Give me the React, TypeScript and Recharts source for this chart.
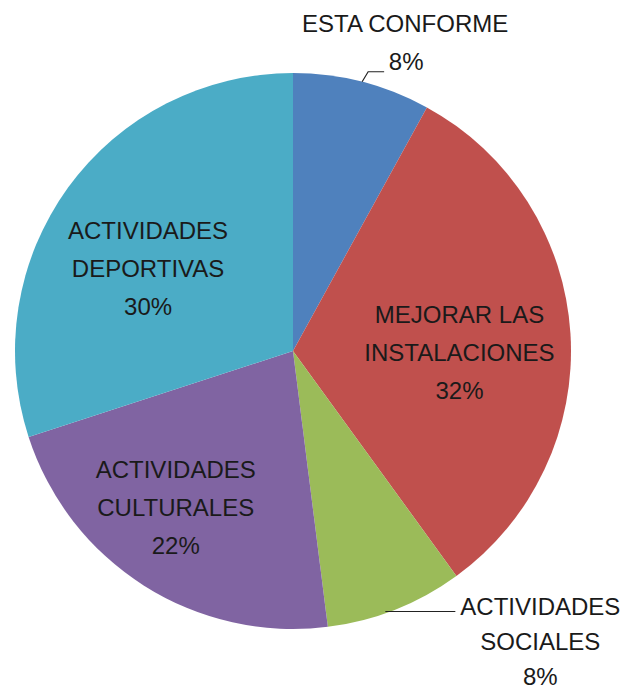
import React from 'react';
import { PieChart, Pie, Cell } from 'recharts';

const categories = ['ESTA CONFORME', 'MEJORAR LAS INSTALACIONES', 'ACTIVIDADES SOCIALES', 'ACTIVIDADES CULTURALES', 'ACTIVIDADES DEPORTIVAS'];
const values = [8, 32, 8, 22, 30];
const labelLines = [
  ['ESTA CONFORME', '8%'],
  ['MEJORAR LAS', 'INSTALACIONES', '32%'],
  ['ACTIVIDADES', 'SOCIALES', '8%'],
  ['ACTIVIDADES', 'CULTURALES', '22%'],
  ['ACTIVIDADES', 'DEPORTIVAS', '30%'],
];
const colors = ['#4F81BD', '#C0504D', '#9BBB59', '#8064A2', '#4BACC6'];

const data = categories.map((name, i) => ({ name, value: values[i] }));

const RAD = Math.PI / 180;
const FONT = "'Liberation Sans', Arial, sans-serif";
const FS = 24;
const LH = 38;
const TXT = '#1a1a1a';

const placement: Record<number, any> = {
  0: { kind: 'top' },
  1: { kind: 'in', rf: 0.6, dx: 0, dy: 12 },
  2: { kind: 'bottom' },
  3: { kind: 'in', rf: 0.7, dx: -13, dy: -8 },
  4: { kind: 'in', rf: 0.6, dx: -10, dy: 16 },
};

const renderLabel = (props: any) => {
  const { cx, cy, midAngle, outerRadius, index } = props;
  const lines = labelLines[index];
  const p = placement[index];
  const ex = cx + outerRadius * Math.cos(-midAngle * RAD);
  const ey = cy + outerRadius * Math.sin(-midAngle * RAD);
  if (p.kind === 'in') {
    const r = outerRadius * p.rf;
    const x = cx + r * Math.cos(-midAngle * RAD) + p.dx;
    const y = cy + r * Math.sin(-midAngle * RAD) + p.dy;
    const n = lines.length;
    return (
      <g>
        {lines.map((t, k) => (
          <text key={k} x={x} y={y + (k - (n - 1) / 2) * LH} textAnchor="middle" dominantBaseline="central"
            fontFamily={FONT} fontSize={FS} fill={TXT}>{t}</text>
        ))}
      </g>
    );
  }
  if (p.kind === 'top') {
    return (
      <g>
        <path d={`M${ex},${ey} L${ex + 6},${ey - 10} L${ex + 22},${ey - 10}`} stroke="#222" strokeWidth={1.2} fill="none" />
        <text x={ex + 43} y={ey - 58} textAnchor="middle" dominantBaseline="central" fontFamily={FONT} fontSize={FS} fill={TXT}>{lines[0]}</text>
        <text x={ex + 44} y={ey - 20} textAnchor="middle" dominantBaseline="central" fontFamily={FONT} fontSize={FS} fill={TXT}>{lines[1]}</text>
      </g>
    );
  }
  return (
    <g>
      <path d={`M${ex - 10},${ey + 2} L${ex + 60},${ey + 2}`} stroke="#222" strokeWidth={1.2} fill="none" />
      {lines.map((t, k) => (
        <text key={k} x={ex + 145} y={ey - 3 + k * 35} textAnchor="middle" dominantBaseline="central"
          fontFamily={FONT} fontSize={FS} fill={TXT}>{t}</text>
      ))}
    </g>
  );
};

export default function App() {
  return (
    <div style={{ position: 'absolute', left: 0, top: 0, width: 626, height: 689, background: '#fff' }}>
      <PieChart width={626} height={689}>
        <Pie
          data={data}
          dataKey="value"
          nameKey="name"
          cx={288}
          cy={346}
          outerRadius={278}
          startAngle={90}
          endAngle={-270}
          stroke="none"
          isAnimationActive={false}
          labelLine={false}
          label={renderLabel}
        >
          {data.map((d, i) => (
            <Cell key={d.name} fill={colors[i]} />
          ))}
        </Pie>
      </PieChart>
    </div>
  );
}
